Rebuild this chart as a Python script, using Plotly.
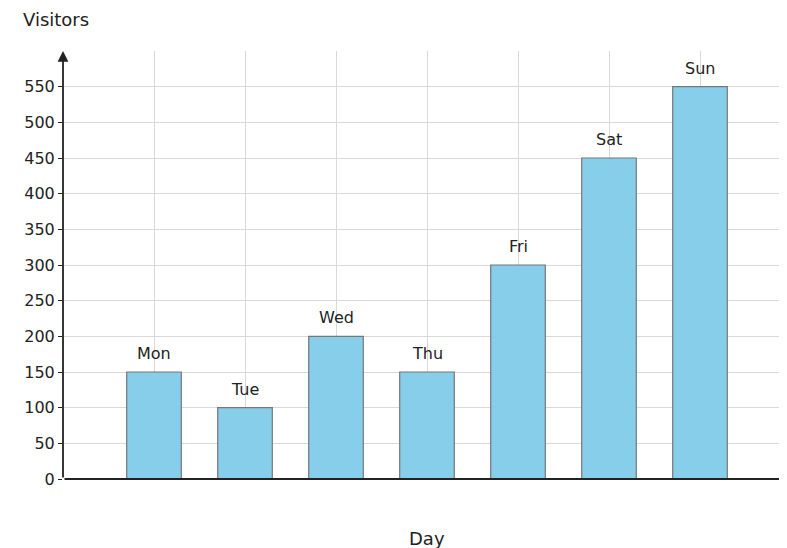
import plotly.graph_objects as go

days = ["Mon", "Tue", "Wed", "Thu", "Fri", "Sat", "Sun"]
visitors = [150, 100, 200, 150, 300, 450, 550]
positions = [1, 2, 3, 4, 5, 6, 7]
yticks = list(range(0, 551, 50))

fig = go.Figure(go.Bar(
    x=positions, y=visitors, width=0.6,
    marker=dict(color="#87CEEB", line=dict(color="#777", width=1.2)),
))
fig.update_traces(opacity=1)
bar_labels = [dict(x=p, y=v, text=d, xref="x", yref="y", showarrow=False,
                   yanchor="bottom", yshift=7, font=dict(size=16, color="#222"))
              for p, v, d in zip(positions, visitors, days)]
fig.update_layout(
    width=787, height=548, margin=dict(l=55, r=4, t=43, b=77, autoexpand=False),
    plot_bgcolor="white", paper_bgcolor="white", showlegend=False,
    font=dict(family="DejaVu Sans", size=16, color="#222"),
    xaxis=dict(range=[0, 8], tickvals=[1, 2, 3, 4, 5, 6, 7, 8], showticklabels=False,
               showgrid=True, gridcolor="#d9d9d9", zeroline=False, showline=False,
               automargin=False),
    yaxis=dict(range=[0, 600], tickvals=yticks, showgrid=True, gridcolor="#d9d9d9",
               zeroline=False, showline=False, ticks="outside", ticklen=4,
               tickcolor="#222", tickfont=dict(size=16), automargin=False),
    annotations=bar_labels + [
        dict(x=8, y=0, ax=0, ay=0, xref="x", yref="y", axref="x", ayref="y",
             showarrow=True, arrowhead=2, arrowsize=1.2, arrowwidth=1.8, arrowcolor="#222", text=""),
        dict(x=0, y=600, ax=0, ay=0, xref="x", yref="y", axref="x", ayref="y",
             showarrow=True, arrowhead=2, arrowsize=1.2, arrowwidth=1.8, arrowcolor="#222", text=""),
        dict(text="Visitors", x=-55/728, y=1 + 31/428, xref="paper", yref="paper", showarrow=False,
             xanchor="left", yanchor="middle", xshift=13, font=dict(size=18)),
        dict(text="Day", x=0.5, y=-59/428, xref="paper", yref="paper", showarrow=False,
             xanchor="center", yanchor="middle", font=dict(size=18)),
    ],
)
fig.write_html("out.html")
